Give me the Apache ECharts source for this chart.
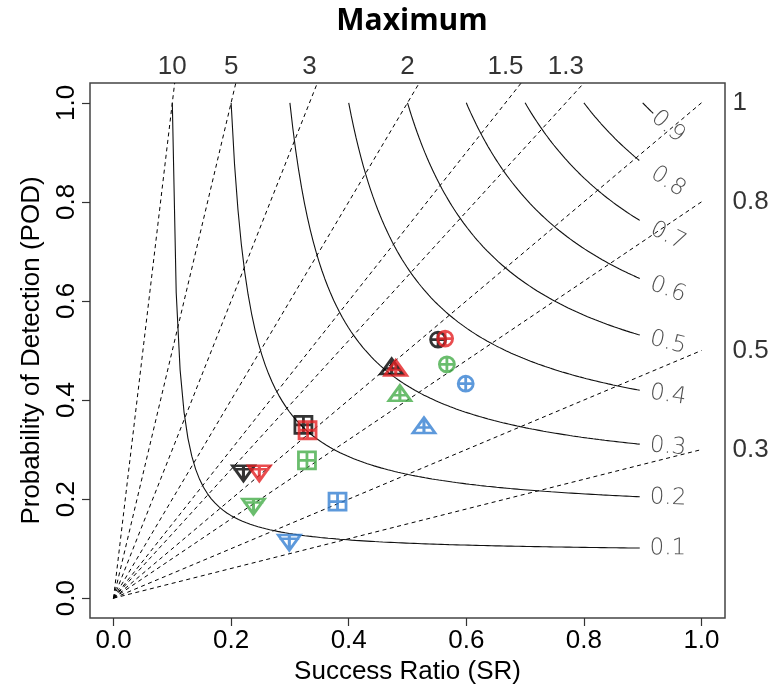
<!DOCTYPE html>
<html>
<head>
<meta charset="utf-8">
<script src="https://cdn.jsdelivr.net/npm/echarts@6.0.0/dist/echarts.min.js"></script>
<style>
  html, body { margin: 0; padding: 0; background: #fff; }
  #chart { width: 772px; height: 685px; }
</style>
</head>
<body>
<div id="chart"></div>
<script>
// performance diagram: frequency bias rays + CSI isolines
var biasLevels = [0.3, 0.5, 0.8, 1, 1.3, 1.5, 2, 3, 5, 10];
var biasTopLevels = [10, 5, 3, 2, 1.5, 1.3];
var biasTopLabels = ['10', '5', '3', '2', '1.5', '1.3'];
var biasRightLevels = [1, 0.8, 0.5, 0.3];
var biasRightLabels = ['1', '0.8', '0.5', '0.3'];
var csiLevels = [0.1, 0.2, 0.3, 0.4, 0.5, 0.6, 0.7, 0.8, 0.9];
var csiLabels = ['0.1', '0.2', '0.3', '0.4', '0.5', '0.6', '0.7', '0.8', '0.9'];
var tickValues = [0, 0.2, 0.4, 0.6, 0.8, 1.0];

// points, order: circle, triangle up, square, triangle down
var srBlack = [0.552, 0.473, 0.323, 0.221];
var podBlack = [0.522, 0.468, 0.350, 0.252];
var srRed = [0.564, 0.480, 0.330, 0.248];
var podRed = [0.524, 0.465, 0.339, 0.252];
var srGreen = [0.567, 0.487, 0.329, 0.238];
var podGreen = [0.472, 0.414, 0.278, 0.185];
var srBlue = [0.599, 0.528, 0.381, 0.299];
var podBlue = [0.433, 0.349, 0.195, 0.112];

var shapes = [
  'path://M0 7 A7 7 0 1 1 14 7 A7 7 0 1 1 0 7 Z M0 7 L14 7 M7 0 L7 14',
  'path://M10 0 L20 17 L0 17 Z M10 0 L10 17 M3.5 11 L16.5 11',
  'path://M0 0 L16 0 L16 16 L0 16 Z M0 8 L16 8 M8 0 L8 16',
  'path://M0 0 L20 0 L10 17 Z M10 0 L10 17 M1 4 L19 4'
];
var shapeSizes = [[15, 15], [22, 18], [17, 17], [22, 18]];

var axMin = -0.04, axMax = 1.04;
var gridL = 90, gridR = 47, gridT = 83, gridB = 67;
var W = 772, H = 685;
var pxX = (W - gridL - gridR) / (axMax - axMin);
var pxY = (H - gridT - gridB) / (axMax - axMin);

var font = 'Liberation Sans';
var chart = echarts.init(document.getElementById('chart'));

function csiPod(c, sr) {
  return 1 / (1 / c + 1 - 1 / sr);
}

var series = [];

// bias rays, clipped at the frame
biasLevels.forEach(function (b) {
  var end = Math.min(1, axMax / b);
  series.push({
    type: 'line', silent: true, symbol: 'none', z: 1,
    lineStyle: { color: '#000', width: 1, type: [4, 3.5] },
    data: [[0, 0], [end, b * end]]
  });
});

// CSI isolines, gap left for the labels
var labelSr = 0.943;
csiLevels.forEach(function (c) {
  var stop = Math.max(0.895, c + 0.018);
  var pts = [];
  var n = 120;
  for (var i = 0; i <= n; i++) {
    var sr = c + (stop - c) * i / n;
    pts.push([sr, csiPod(c, sr)]);
  }
  series.push({
    type: 'line', silent: true, symbol: 'none', z: 1,
    lineStyle: { color: '#111', width: 1.1 },
    data: pts
  });
});

// CSI labels
series.push({
  type: 'scatter', silent: true, symbolSize: 0, clip: false, z: 2,
  data: csiLevels.map(function (c, i) {
    var p = csiPod(c, labelSr);
    var slope = -p * p / (labelSr * labelSr);
    var ang = Math.atan(slope * pxY / pxX) * 180 / Math.PI;
    return {
      value: [labelSr, p],
      label: {
        show: true, position: 'inside', formatter: csiLabels[i], rotate: ang,
        fontFamily: 'DejaVu Sans', fontWeight: 200, fontSize: 23, color: '#222'
      }
    };
  })
});

// bias labels on top
series.push({
  type: 'scatter', silent: true, symbolSize: 0, clip: false,
  data: biasTopLevels.map(function (b, i) {
    return {
      value: [1 / b, axMax],
      label: {
        show: true, position: 'inside', offset: [0, -16], formatter: biasTopLabels[i],
        fontFamily: font, fontSize: 26, color: '#000'
      }
    };
  })
});

// bias labels on the right
series.push({
  type: 'scatter', silent: true, symbolSize: 0, clip: false,
  data: biasRightLevels.map(function (b, i) {
    return {
      value: [1, b],
      label: {
        show: true, position: 'inside', align: 'left', offset: [31, 0],
        formatter: biasRightLabels[i],
        fontFamily: font, fontSize: 26, color: '#000'
      }
    };
  })
});

function markerSeries(srs, pods, col) {
  return {
    type: 'scatter', z: 5, clip: false,
    itemStyle: { color: 'rgba(0,0,0,0)', borderColor: col, borderWidth: 2.8 },
    data: srs.map(function (s, i) {
      return { value: [s, pods[i]], symbol: shapes[i], symbolSize: shapeSizes[i], symbolKeepAspect: true };
    })
  };
}
series.push(markerSeries(srBlack, podBlack, '#000000'));
series.push(markerSeries(srRed, podRed, '#e41f22'));
series.push(markerSeries(srGreen, podGreen, '#45ad48'));
series.push(markerSeries(srBlue, podBlue, '#347fd2'));

var axisCommon = {
  type: 'value', min: axMin, max: axMax,
  axisLine: { show: false, onZero: false },
  splitLine: { show: false },
  axisTick: { show: true, length: 8, customValues: tickValues, lineStyle: { color: '#333', width: 1.2 } },
  nameLocation: 'middle',
  nameTextStyle: { fontFamily: font, fontSize: 26, color: '#000' }
};

chart.setOption({
  animation: false,
  backgroundColor: '#fff',
  graphic: [{
    type: 'text', x: 412, y: 21,
    style: {
      text: 'Maximum', textAlign: 'center', textVerticalAlign: 'middle',
      fontFamily: 'Open Sans', fontWeight: 'bold', fontSize: 30, fill: '#000'
    }
  }],
  grid: {
    left: gridL, right: gridR, top: gridT, bottom: gridB,
    show: true, borderColor: '#444', borderWidth: 1.5,
    outerBoundsMode: 'none'
  },
  xAxis: Object.assign({}, axisCommon, {
    name: 'Success Ratio (SR)', nameGap: 34,
    axisLabel: {
      customValues: tickValues, margin: 10,
      fontFamily: font, fontSize: 26, color: '#000',
      formatter: function (v) { return v.toFixed(1); }
    }
  }),
  yAxis: Object.assign({}, axisCommon, {
    name: 'Probability of Detection (POD)', nameGap: 45, nameRotate: 90,
    axisLabel: {
      customValues: tickValues, margin: 10, rotate: 90,
      fontFamily: font, fontSize: 26, color: '#000',
      formatter: function (v) { return v.toFixed(1); }
    }
  }),
  series: series
});
</script>
</body>
</html>
